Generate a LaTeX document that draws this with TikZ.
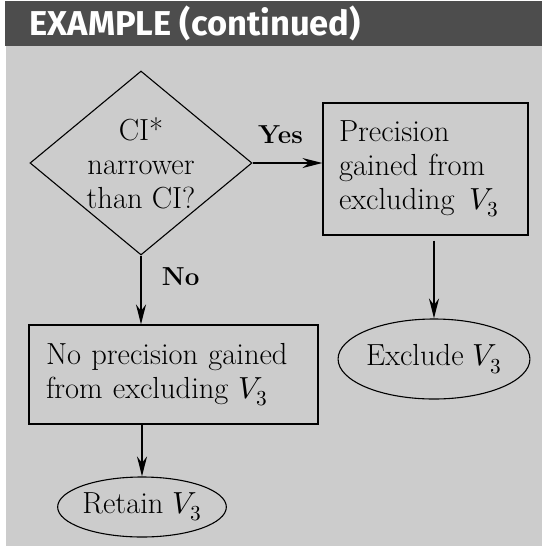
\documentclass[tikz,border=0pt]{standalone}
\usepackage{fontspec}
\usepackage{unicode-math}
\usetikzlibrary{shapes.geometric,arrows.meta}
\newfontfamily\headfont{Fira Sans}
\definecolor{headgray}{RGB}{77,77,77}
\definecolor{panelgray}{RGB}{204,204,204}
\begin{document}
\begin{tikzpicture}[x=1pt, y=-1pt, line width=1.1pt,
		every node/.style={font=\fontsize{30.5}{34}\selectfont},
		decision/.style={draw, diamond, aspect=1.2, inner sep=0pt, minimum width=222pt, minimum height=184pt, align=center},
		stepbox/.style={draw, rectangle, inner sep=0pt, align=left},
		endpoint/.style={draw, ellipse, inner sep=0pt},
		flow/.style={-{Stealth[length=20pt,width=10pt]}, line width=1.3pt},
		lbl/.style={font=\fontsize{26}{30}\selectfont\bfseries}]
		\useasboundingbox (0,0) rectangle (542,547);
		\fill[panelgray] (6,45) rectangle (542,546);
		\fill[headgray] (5,1) rectangle (542,46);
		\node[anchor=base west, text=white, inner sep=0pt, font=\headfont\bfseries\fontsize{34.5}{38}\selectfont] (title) at (29,35) {EXAMPLE (continued)};
		\node[decision] (ci) at (141,163) {CI*\\narrower\\than CI?};
		\node[stepbox, minimum width=205pt, minimum height=132pt, text width=173pt] (gain) at (425.5,169) {Precision\\gained from\\excluding\enspace$V_3$};
		\node[stepbox, minimum width=289pt, minimum height=99pt, text width=255pt] (nogain) at (173.5,374.5) {No precision gained\\from excluding $V_3$};
		\node[endpoint, minimum width=177pt, minimum height=80pt] (exclude) at (434,359) {Exclude $V_3$};
		\node[endpoint, minimum width=159pt, minimum height=60pt] (retain) at (142,507) {Retain $V_3$};
		% connectors
		\draw[flow] (ci.east) -- (ci.east -| gain.west) node[lbl, pos=0.4, above=15pt] {Yes};
		\draw[flow] (ci.south) -- (ci.south |- nogain.north) node[lbl, pos=0.3, right=17pt] {No};
		\draw[flow] ([yshift=-5pt]exclude.north |- gain.south) -- (exclude.north);
		\draw[flow] (retain.north |- nogain.south) -- (retain.north);
	\end{tikzpicture}
\end{document}
